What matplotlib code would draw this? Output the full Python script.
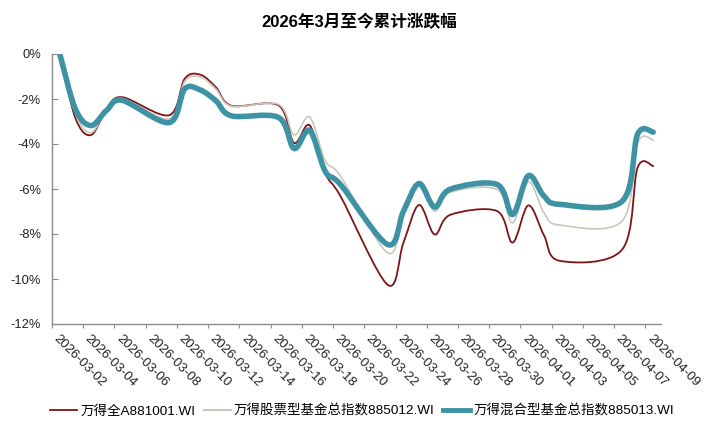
import numpy as np
import matplotlib
matplotlib.use("Agg")
import matplotlib.pyplot as plt
from matplotlib.path import Path
from matplotlib.patches import PathPatch
from matplotlib.lines import Line2D

plt.rcParams['font.family'] = ['Liberation Sans', 'Noto Sans CJK SC']

# trading days, as offsets in calendar days from 2026-03-02
trade_days = [0, 1, 2, 3, 4, 7, 8, 9, 10, 11, 14, 15, 16, 17, 18, 21, 22, 23, 24, 25,
              28, 29, 30, 31, 32, 36, 37, 38]

# cumulative change (%)
wind_a = [0.00, -2.85, -3.60, -2.45, -1.92, -2.72, -1.10, -0.92, -1.48, -2.30,
          -2.28, -3.95, -3.17, -5.30, -6.35, -10.26, -8.40, -6.71, -8.02, -7.15,
          -6.98, -8.38, -6.73, -8.05, -9.19, -8.70, -5.05, -4.98]
stock_fund = [0.00, -2.65, -3.50, -2.48, -1.98, -2.88, -1.22, -1.02, -1.56, -2.32,
              -2.24, -3.59, -2.80, -4.74, -5.45, -8.84, -7.10, -5.83, -6.98, -6.15,
              -6.02, -7.50, -5.67, -7.05, -7.60, -7.43, -3.95, -3.82]
mixed_fund = [0.00, -2.45, -3.18, -2.50, -2.06, -3.05, -1.55, -1.60, -2.08, -2.75,
              -2.82, -4.20, -3.40, -5.22, -5.82, -8.47, -7.00, -5.76, -6.80, -6.01,
              -5.80, -7.13, -5.41, -6.31, -6.68, -6.55, -3.57, -3.47]

series_names = ['万得全A881001.WI', '万得股票型基金总指数885012.WI', '万得混合型基金总指数885013.WI']
series_colors = ['#7E1416', '#C9C7BA', '#3D93A4']
series_widths = [1.3, 1.2, 4.0]

date_labels = ['2026-03-02', '2026-03-04', '2026-03-06', '2026-03-08', '2026-03-10',
               '2026-03-12', '2026-03-14', '2026-03-16', '2026-03-18', '2026-03-20',
               '2026-03-22', '2026-03-24', '2026-03-26', '2026-03-28', '2026-03-30',
               '2026-04-01', '2026-04-03', '2026-04-05', '2026-04-07', '2026-04-09']
y_ticks = [0, -2, -4, -6, -8, -10, -12]
y_labels = ['0%', '-2%', '-4%', '-6%', '-8%', '-10%', '-12%']


def smooth_path(xs, ys):
    # Catmull-Rom through the points, drawn as cubic Bezier segments
    p = np.column_stack([xs, ys]).astype(float)
    n = len(p)
    ext = np.vstack([p[0], p, p[-1]])
    verts = [p[0]]
    codes = [Path.MOVETO]
    for i in range(n - 1):
        c1 = p[i] + (ext[i + 2] - ext[i]) / 6.0
        c2 = p[i + 1] - (ext[i + 3] - ext[i + 1]) / 6.0
        verts += [c1, c2, p[i + 1]]
        codes += [Path.CURVE4] * 3
    return Path(verts, codes)


fig = plt.figure(figsize=(7.18, 4.34), dpi=100)
ax = fig.add_axes([52 / 718, 1 - 324 / 434, 609 / 718, 270 / 434])

ax.set_xlim(-0.5, 38.5)
ax.set_ylim(-12, 0)

for vals, col, lw in zip([wind_a, stock_fund, mixed_fund], series_colors, series_widths):
    ax.add_patch(PathPatch(smooth_path(trade_days, vals), fill=False, edgecolor=col,
                           lw=lw, capstyle='round', joinstyle='round'))

# axis styling
axis_grey = '#8C8C8C'
for s in ['top', 'right']:
    ax.spines[s].set_visible(False)
for s in ['left', 'bottom']:
    ax.spines[s].set_color(axis_grey)
    ax.spines[s].set_linewidth(1.0)

ax.set_yticks(y_ticks, y_labels)
ax.tick_params(axis='y', direction='in', length=4, color=axis_grey, labelsize=9.3,
               pad=8, labelcolor='#222222')

ax.set_xticks(np.arange(-0.5, 38, 2.0), [])
ax.tick_params(axis='x', which='major', direction='out', length=3, color=axis_grey)
ax.set_xticks(np.arange(0, 39, 2), date_labels, minor=True)
ax.tick_params(axis='x', which='minor', length=0, pad=6, labelsize=9.5, labelcolor='#222222')
for lab in ax.get_xticklabels(minor=True):
    lab.set_rotation(-45)
    lab.set_ha('left')
    lab.set_va('top')
    lab.set_rotation_mode('anchor')

fig.text(0.5, 1 - 22 / 434, '2026年3月至今累计涨跌幅', ha='center', va='center',
         fontsize=12, fontweight='bold')

handles = [Line2D([], [], color=c, lw=w) for c, w in zip(series_colors, [1.3, 1.5, 3.5])]
fig.legend(handles, series_names, loc='center', bbox_to_anchor=(362 / 718, 1 - 411 / 434),
           ncol=3, frameon=False, fontsize=9.7, handlelength=2.0, handletextpad=0.25,
           columnspacing=0.6, borderpad=0)

fig.savefig('out.png', dpi=100)
